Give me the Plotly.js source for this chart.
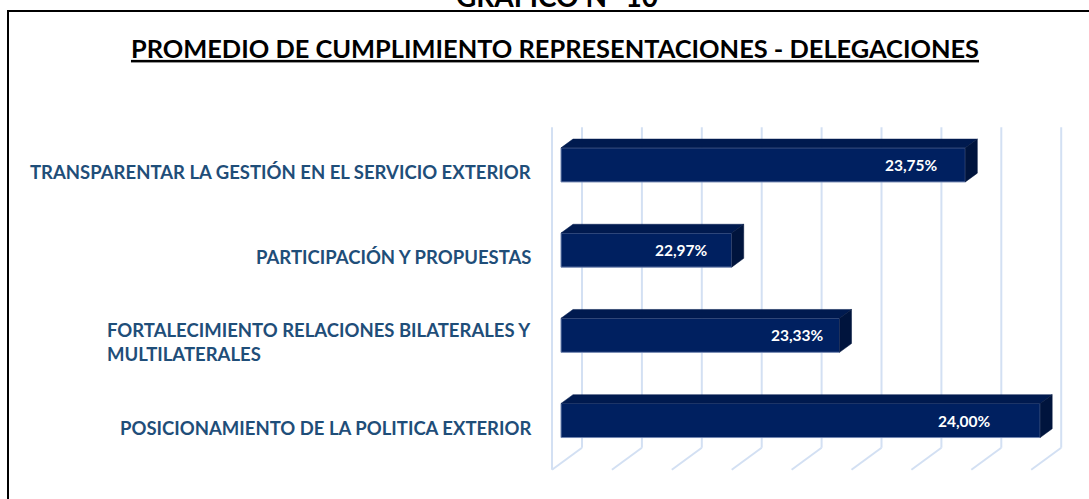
<!DOCTYPE html>
<html>
<head>
<meta charset="utf-8">
<script src="https://cdn.plot.ly/plotly-3.0.1.min.js"></script>
<style>
  html, body { margin: 0; padding: 0; background: #fff; }
  #chart { width: 1089px; height: 499px; }
</style>
</head>
<body>
<div id="chart"></div>
<script>
// categories listed bottom to top, the way they are drawn
var categories = [
    "POSICIONAMIENTO DE LA POLITICA EXTERIOR",
    "FORTALECIMIENTO RELACIONES BILATERALES Y<br>MULTILATERALES",
    "PARTICIPACIÓN Y PROPUESTAS",
    "TRANSPARENTAR LA GESTIÓN EN EL SERVICIO EXTERIOR"
];
var values = [24.00, 23.33, 22.97, 23.75];
var gridTicks = [22.4, 22.6, 22.8, 23.0, 23.2, 23.4, 23.6, 23.8, 24.0];
var axisMin = 22.4;

// layout / fake-3d geometry (pixels)
var W = 1089, H = 499;
var pxPerX = 299.5, frontX0 = 561;   // axisMin on the bar front face
var pxPerY = 85.2, cat0Px = 420.5;   // first category centre
var ddx = 30 / pxPerX, ddy = 22 / pxPerY; // full floor depth
var barDepth = 0.4, frontDepth = 0.3;
var floorY = -0.5, wallTop = 3.26;
var labelGap = [47, 14, 22, 25];     // value label inset from the bar end

var xRange = [axisMin - frontX0 / pxPerX, axisMin + (W - frontX0) / pxPerX];
var yRange = [(cat0Px - H) / pxPerY, cat0Px / pxPerY];

function proj(x, y, d) {
    return [x + (d - frontDepth) * ddx, y + (d - frontDepth) * ddy];
}

var gridColor = "#d3e0f3";
var shapes = [];

// back wall gridlines + floor diagonals
gridTicks.forEach(function (t) {
    var b0 = proj(t, floorY, 1), b1 = proj(t, wallTop, 1), f0 = proj(t, floorY, 0);
    shapes.push({type: "line", xref: "x", yref: "y", layer: "below",
        x0: b0[0], y0: b0[1], x1: b1[0], y1: b1[1], line: {color: gridColor, width: 2}});
    shapes.push({type: "line", xref: "x", yref: "y", layer: "below",
        x0: f0[0], y0: f0[1], x1: b0[0], y1: b0[1], line: {color: gridColor, width: 2}});
});
// left wall front edge
var lf = proj(axisMin, floorY, 0), lt = proj(axisMin, wallTop, 1);
shapes.push({type: "line", xref: "x", yref: "y", layer: "below",
    x0: lf[0], y0: lf[1], x1: lf[0], y1: lt[1], line: {color: gridColor, width: 2}});

// outer frame
shapes.push({type: "rect", xref: "paper", yref: "paper",
    x0: 8 / W, x1: 1.05, y0: -0.05, y1: 1 - 11 / H, line: {color: "#000", width: 2}});

var idx = values.map(function (v, i) { return i; });
var barHalf = 0.2;
var ox = barDepth * ddx, oy = barDepth * ddy;

var data = [];

// top and side faces of each bar
values.forEach(function (v, i) {
    var yt = i + barHalf, yb = i - barHalf;
    data.push({
        type: "scatter", mode: "lines", fill: "toself",
        x: [axisMin, v, v + ox, axisMin + ox, axisMin],
        y: [yt, yt, yt + oy, yt + oy, yt],
        fillcolor: "#001a4f", line: {color: "#001a4f", width: 0.5},
        hoverinfo: "skip", showlegend: false
    });
    data.push({
        type: "scatter", mode: "lines", fill: "toself",
        x: [v, v + ox, v + ox, v, v],
        y: [yt, yt + oy, yb + oy, yb, yt],
        fillcolor: "#00143d", line: {color: "#00143d", width: 0.5},
        hoverinfo: "skip", showlegend: false
    });
});

// front faces
data.push({
    type: "bar", orientation: "h",
    y: idx,
    x: values.map(function (v) { return v - axisMin; }),
    base: axisMin,
    width: 2 * barHalf,
    marker: {color: "#002060", line: {color: "#7185b0", width: 1}},
    hoverinfo: "skip", showlegend: false
});

var annotations = [];

values.forEach(function (v, i) {
    annotations.push({
        x: v, y: i, xref: "x", yref: "y",
        text: v.toFixed(2).replace(".", ",") + "%",
        showarrow: false, xanchor: "right", yanchor: "middle",
        xshift: -labelGap[i],
        font: {family: "Lato", size: 15.5, color: "#ffffff", weight: 700}
    });
});

categories.forEach(function (c, i) {
    annotations.push({
        x: 533 / W, y: i, xref: "paper", yref: "y",
        text: c, align: "left",
        showarrow: false, xanchor: "right", yanchor: "middle",
        yshift: -7,
        font: {family: "Lato", size: 18.5, color: "#1f4e79", weight: 700}
    });
});

annotations.push({
    x: 557 / W, y: 1, xref: "paper", yref: "paper",
    text: "GRAFICO N° 10",
    showarrow: false, xanchor: "center", yanchor: "middle", yshift: 4,
    font: {family: "Lato", size: 28, color: "#000", weight: 700}
});

var layout = {
    width: W, height: H,
    margin: {l: 0, r: 0, t: 0, b: 0},
    paper_bgcolor: "#fff", plot_bgcolor: "#fff",
    title: {
        text: "<u>PROMEDIO DE CUMPLIMIENTO REPRESENTACIONES - DELEGACIONES</u>",
        x: 555 / W, xanchor: "center", xref: "paper",
        y: 1 - 49 / H, yanchor: "middle", yref: "paper",
        font: {family: "Lato", size: 25.4, color: "#000", weight: 700}
    },
    xaxis: {range: xRange, visible: false, fixedrange: true},
    yaxis: {range: yRange, visible: false, fixedrange: true},
    shapes: shapes,
    annotations: annotations,
    showlegend: false
};

Plotly.newPlot("chart", data, layout, {displayModeBar: false, staticPlot: true});
</script>
</body>
</html>
